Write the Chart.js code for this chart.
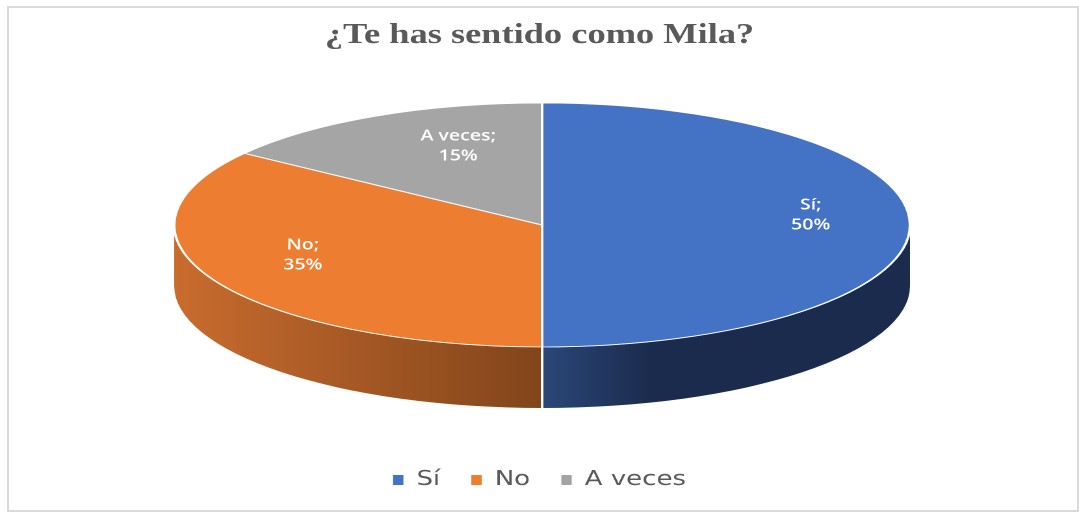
<!DOCTYPE html>
<html>
<head>
<meta charset="utf-8">
<script src="https://cdn.jsdelivr.net/npm/chart.js@4.4.0/dist/chart.umd.min.js"></script>
<style>
  html, body { margin: 0; padding: 0; background: #fff; overflow: hidden; }
  #frame { position: absolute; left: 7px; top: 6px; width: 1072px; height: 506px; border: 2px solid #dadada; box-sizing: border-box; }
  /* the original picture is stretched sideways, so the chart is drawn narrow and stretched */
  #wrap { position: absolute; left: 0; top: 0; width: 830px; height: 512px; transform: scaleX(1.3); transform-origin: 0 0; }
</style>
</head>
<body>
<div id="frame"></div>
<div id="wrap"><canvas id="myChart" width="830" height="512"></canvas></div>
<script>
const chartTitle = "¿Te has sentido como Mila?";
const categories = ["Sí", "No", "A veces"];
const percentages = [50, 35, 15];

const topColors = ["#4472C4", "#ED7D31", "#A5A5A5"];
const sideColors = [["#2B4779", "#1B2B4D"], ["#C96C2E", "#82451B"], ["#7F7F7F", "#595959"]];

// where the tilted pie goes on the (unstretched) canvas
const CX = 417, CY = 225, RADIUS = 283, TILT = 122 / 283, DEPTH = 61;

function norm(a) {
  while (a < 0) a += 2 * Math.PI;
  while (a >= 2 * Math.PI) a -= 2 * Math.PI;
  return a;
}

// squash the pie into an ellipse and give it a side wall
const pie3d = {
  id: "pie3d",
  beforeDatasetsDraw(chart) {
    const ctx = chart.ctx;
    const arcs = chart.getDatasetMeta(0).data;
    const c = arcs[0];
    ctx.save();
    ctx.translate(CX, CY);
    ctx.scale(1, TILT);
    ctx.translate(-c.x, -c.y);
    const d = DEPTH / TILT;

    arcs.forEach((arc, i) => {
      const s = norm(arc.startAngle);
      const e = s + (arc.endAngle - arc.startAngle);
      const r = arc.outerRadius;
      [[0, Math.PI], [2 * Math.PI, 3 * Math.PI]].forEach(([lo, hi]) => {
        const a = Math.max(s, lo), b = Math.min(e, hi);
        if (b <= a) return;
        const x0 = arc.x + r * Math.cos(b), x1 = arc.x + r * Math.cos(a);
        const g = ctx.createLinearGradient(x0, 0, x1, 0);
        g.addColorStop(0, sideColors[i][0]);
        g.addColorStop(i === 0 ? 0.3 : 1, sideColors[i][1]);
        g.addColorStop(1, sideColors[i][1]);
        ctx.beginPath();
        ctx.arc(arc.x, arc.y, r, a, b);
        ctx.arc(arc.x, arc.y + d, r, b, a, true);
        ctx.closePath();
        ctx.fillStyle = g;
        ctx.fill();
      });
    });

    // white seams on the wall where slices meet
    ctx.strokeStyle = "#ffffff";
    ctx.lineWidth = 2;
    arcs.forEach((arc) => {
      const s = norm(arc.startAngle);
      if (s > 0.01 && s < Math.PI - 0.01) {
        const x = arc.x + arc.outerRadius * Math.cos(s);
        const y = arc.y + arc.outerRadius * Math.sin(s);
        ctx.beginPath();
        ctx.moveTo(x, y);
        ctx.lineTo(x, y + d);
        ctx.stroke();
      }
    });
  },
  afterDatasetsDraw(chart) {
    const ctx = chart.ctx;
    ctx.restore();
    const arcs = chart.getDatasetMeta(0).data;
    ctx.save();
    ctx.fillStyle = "#ffffff";
    ctx.font = "600 15px 'Open Sans'";
    ctx.textAlign = "center";
    ctx.textBaseline = "middle";
    arcs.forEach((arc, i) => {
      const mid = (arc.startAngle + arc.endAngle) / 2;
      const sin = Math.sin(mid), cos = Math.cos(mid);
      // slices at the back sit further away, so pull their labels in
      const back = Math.min(sin, 0);
      const x = CX + 0.73 * arc.outerRadius * cos * (1 + 0.35 * back);
      const y = CY - 10 + 0.73 * arc.outerRadius * TILT * sin * (1 + 0.15 * back);
      ctx.fillText(categories[i] + ";", x, y - 10);
      ctx.fillText(percentages[i] + "%", x, y + 10);
    });
    ctx.restore();
  }
};

const defaultLegendLabels = Chart.overrides.pie.plugins.legend.labels.generateLabels;

new Chart(document.getElementById("myChart"), {
  type: "pie",
  data: {
    labels: categories,
    datasets: [{
      data: percentages,
      backgroundColor: topColors,
      borderColor: "#ffffff",
      borderWidth: 2,
      radius: RADIUS,
      clip: false
    }]
  },
  options: {
    responsive: false,
    devicePixelRatio: 2,
    animation: false,
    events: [],
    layout: { padding: { bottom: 12 } },
    plugins: {
      tooltip: { enabled: false },
      title: {
        display: true,
        text: chartTitle,
        color: "#595959",
        font: { family: "'Liberation Serif'", size: 28, weight: "bold" },
        padding: { top: 19, bottom: 10 }
      },
      legend: {
        position: "bottom",
        labels: {
          color: "#595959",
          font: { family: "'DejaVu Sans'", size: 20 },
          boxWidth: 8,
          boxHeight: 10,
          padding: 24,
          // no white outline round the legend squares
          generateLabels: (chart) => defaultLegendLabels(chart).map((item) => ({ ...item, lineWidth: 0 }))
        }
      }
    }
  },
  plugins: [pie3d]
});
</script>
</body>
</html>
